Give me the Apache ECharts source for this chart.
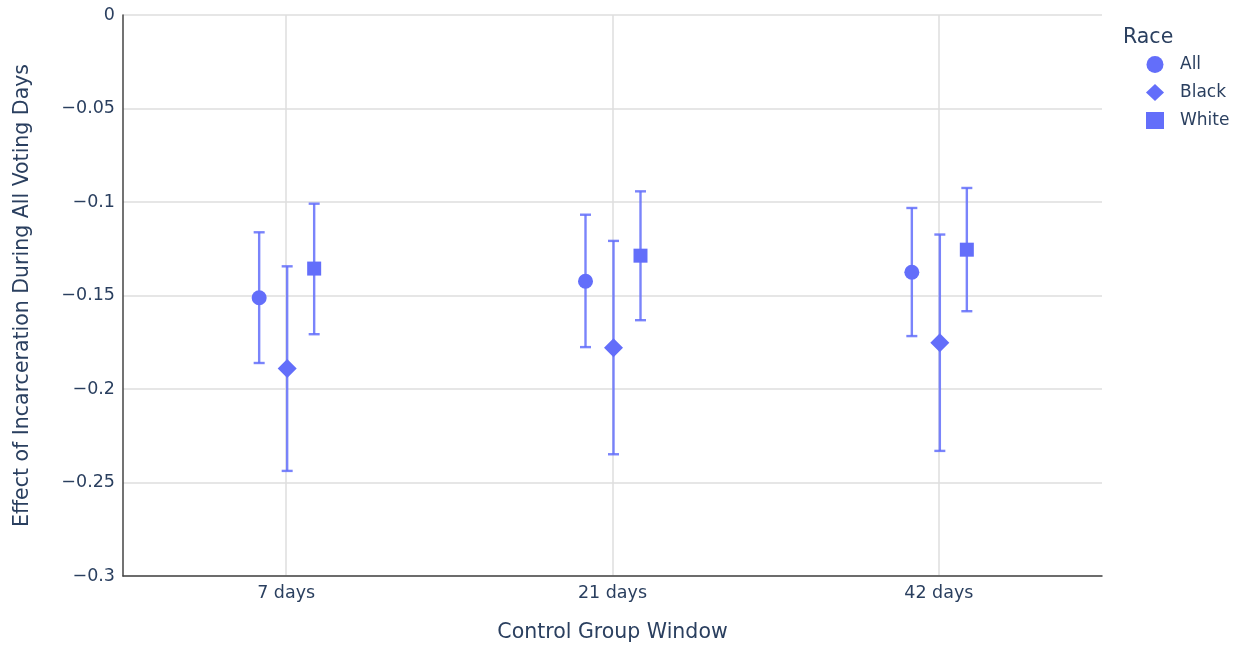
<!DOCTYPE html>
<html>
<head>
<meta charset="utf-8">
<script src="https://cdn.jsdelivr.net/npm/echarts@6/dist/echarts.min.js"></script>
<style>
  html, body { margin: 0; padding: 0; background: #fff; }
  #main { width: 1243px; height: 648px; }
</style>
</head>
<body>
<div id="main"></div>
<script>
// categories on the x axis
var windows = ["7 days", "21 days", "42 days"];
var races = ["All", "Black", "White"];

// point estimates per race (one per window)
var estAll = [-0.1512, -0.1424, -0.1376];
var estBlack = [-0.1891, -0.1780, -0.1753];
var estWhite = [-0.1356, -0.1287, -0.1255];

// confidence interval bounds
var lowAll = [-0.1861, -0.1776, -0.1717];
var highAll = [-0.1162, -0.1068, -0.1032];
var lowBlack = [-0.2438, -0.2349, -0.2331];
var highBlack = [-0.1344, -0.1208, -0.1174];
var lowWhite = [-0.1707, -0.1632, -0.1584];
var highWhite = [-0.1009, -0.0943, -0.0925];

var yTicks = [0, -0.05, -0.1, -0.15, -0.2, -0.25, -0.3];

var color = "#636efa";
var textColor = "#2a3f5f";
var font = "'DejaVu Sans', Verdana, sans-serif";

var groups = [
  { name: "All", est: estAll, low: lowAll, high: highAll, symbol: "circle", size: 15, shift: -27 },
  { name: "Black", est: estBlack, low: lowBlack, high: highBlack, symbol: "diamond", size: 19, shift: 1 },
  { name: "White", est: estWhite, low: lowWhite, high: highWhite, symbol: "rect", size: 14, shift: 28 }
];

function errorBars(g) {
  return {
    type: "custom",
    name: g.name + " CI",
    silent: true,
    z: 2,
    data: windows.map(function (w, i) { return [i, g.low[i], g.high[i]]; }),
    renderItem: function (params, api) {
      var lo = api.coord([api.value(0), api.value(1)]);
      var hi = api.coord([api.value(0), api.value(2)]);
      var x = lo[0] + g.shift;
      var cap = 5.5;
      var style = { stroke: color, lineWidth: 2.4, opacity: 0.85 };
      return {
        type: "group",
        children: [
          { type: "line", shape: { x1: x, y1: lo[1], x2: x, y2: hi[1] }, style: style },
          { type: "line", shape: { x1: x - cap, y1: lo[1], x2: x + cap, y2: lo[1] }, style: style },
          { type: "line", shape: { x1: x - cap, y1: hi[1], x2: x + cap, y2: hi[1] }, style: style }
        ]
      };
    }
  };
}

function points(g) {
  return {
    type: "scatter",
    name: g.name,
    symbol: g.symbol,
    symbolSize: g.size,
    symbolOffset: [g.shift, 0],
    itemStyle: { color: color, opacity: 1 },
    z: 3,
    data: windows.map(function (w, i) { return [i, g.est[i]]; })
  };
}

var series = [];
groups.forEach(function (g) { series.push(errorBars(g)); });
groups.forEach(function (g) { series.push(points(g)); });

var chart = echarts.init(document.getElementById("main"));
chart.setOption({
  backgroundColor: "#fff",
  animation: false,
  textStyle: { fontFamily: font, color: textColor },
  title: {
    text: "Race",
    left: 1118,
    top: 22,
    textStyle: { fontFamily: font, fontSize: 20.5, fontWeight: "normal", color: textColor }
  },
  legend: {
    orient: "vertical",
    left: 1141,
    top: 51,
    itemGap: 11,
    itemWidth: 18,
    itemHeight: 17,
    data: races,
    textStyle: { fontFamily: font, fontSize: 17, color: textColor, padding: [0, 0, 0, 11] }
  },
  grid: { left: 123, right: 141, top: 15, bottom: 71 },
  xAxis: {
    type: "category",
    data: windows,
    boundaryGap: true,
    name: "Control Group Window",
    nameLocation: "middle",
    nameGap: 46,
    nameTextStyle: { fontSize: 20.5, color: textColor },
    axisLine: { show: true, onZero: false, lineStyle: { color: "#444", width: 1.5 } },
    axisTick: { show: false, alignWithLabel: true },
    axisLabel: { fontSize: 17.5, color: textColor, margin: 8 },
    splitLine: { show: true, alignWithLabel: true, lineStyle: { color: "#dedede", width: 1.5 } }
  },
  yAxis: {
    type: "value",
    min: -0.3,
    max: 0,
    interval: 0.05,
    name: "Effect of Incarceration During All Voting Days",
    nameLocation: "middle",
    nameGap: 90,
    nameTextStyle: { fontSize: 20.5, color: textColor },
    axisLine: { show: true, lineStyle: { color: "#444", width: 1.5 } },
    axisTick: { show: false },
    axisLabel: {
      fontSize: 17.5,
      color: textColor,
      margin: 8,
      formatter: function (v) {
        var r = parseFloat(v.toFixed(2));
        var idx = yTicks.indexOf(r);
        var t = idx >= 0 ? String(yTicks[idx]) : String(r);
        return t.replace("-", "\u2212");
      }
    },
    splitLine: { show: true, lineStyle: { color: "#dedede", width: 1.5 } }
  },
  series: series
});
</script>
</body>
</html>
